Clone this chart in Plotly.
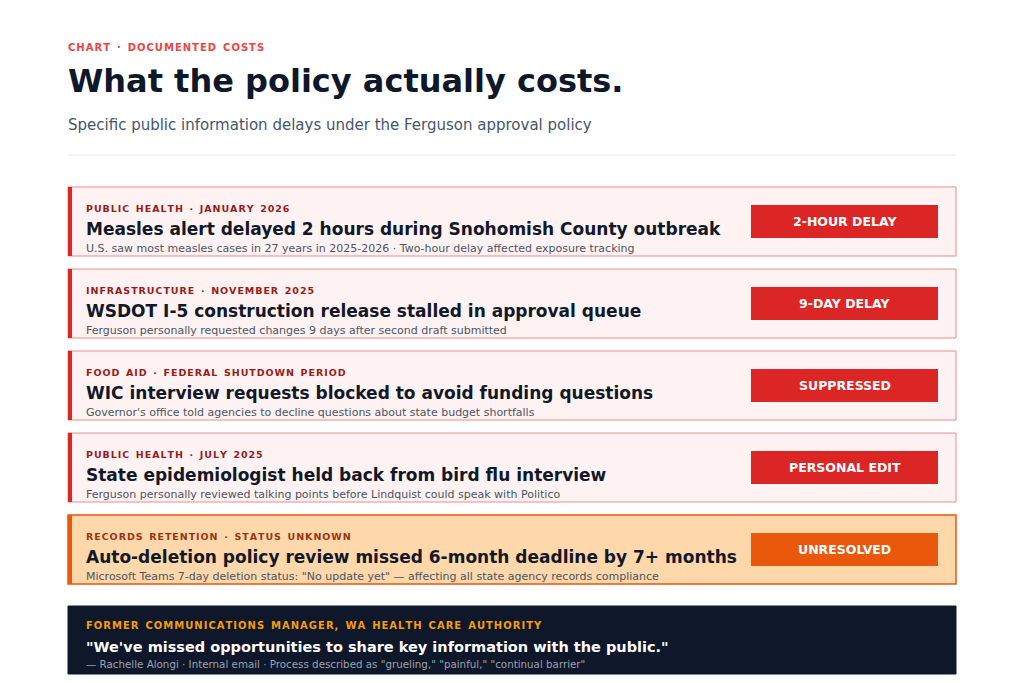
import plotly.graph_objects as go

# card content
labels = ["PUBLIC HEALTH · JANUARY 2026", "INFRASTRUCTURE · NOVEMBER 2025",
          "FOOD AID · FEDERAL SHUTDOWN PERIOD", "PUBLIC HEALTH · JULY 2025",
          "RECORDS RETENTION · STATUS UNKNOWN"]
titles = ["Measles alert delayed 2 hours during Snohomish County outbreak",
          "WSDOT I-5 construction release stalled in approval queue",
          "WIC interview requests blocked to avoid funding questions",
          "State epidemiologist held back from bird flu interview",
          "Auto-deletion policy review missed 6-month deadline by 7+ months"]
details = ["U.S. saw most measles cases in 27 years in 2025-2026 · Two-hour delay affected exposure tracking",
           "Ferguson personally requested changes 9 days after second draft submitted",
           "Governor's office told agencies to decline questions about state budget shortfalls",
           "Ferguson personally reviewed talking points before Lindquist could speak with Politico",
           "Microsoft Teams 7-day deletion status: \"No update yet\" — affecting all state agency records compliance"]
badges = ["2-HOUR DELAY", "9-DAY DELAY", "SUPPRESSED", "PERSONAL EDIT", "UNRESOLVED"]
resolved = [True, True, True, True, False]

quote_label = "FORMER COMMUNICATIONS MANAGER, WA HEALTH CARE AUTHORITY"
quote_text = "\"We've missed opportunities to share key information with the public.\""
quote_src = "— Rachelle Alongi · Internal email · Process described as \"grueling,\" \"painful,\" \"continual barrier\""

FONT = "DejaVu Sans"
shapes, ann = [], []


def spaced(s):
    # approximate CSS letter-spacing with hair spaces
    return "\u200a".join(s.replace(" ", "\u2002"))


def text(x, y, s, size, color, bold=False, xanchor="left"):
    ann.append(dict(x=x - (2 if xanchor == "left" else 0), y=y,
                    text=f"<b>{s}</b>" if bold else s, showarrow=False,
                    xanchor=xanchor, yanchor="middle", xref="x", yref="y",
                    font=dict(family=FONT, size=size, color=color)))


# header
text(68, 47, spaced("CHART · DOCUMENTED COSTS"), 10, "#ef4444", True)
text(68, 81, "What the policy actually costs.", 32, "#0f172a", True)
text(68, 125, "Specific public information delays under the Ferguson approval policy", 15, "#475569")
shapes.append(dict(type="line", x0=68, x1=956, y0=155, y1=155, line=dict(color="#e5e7eb", width=1)))

for i in range(len(titles)):
    top = 187 + i * 82
    red = resolved[i]
    fill = "#fef2f2" if red else "#fed7aa"
    border = "#f08a8a" if red else "#ea580c"
    accent = "#dc2626" if red else "#ea580c"
    shapes.append(dict(type="rect", x0=68, x1=956, y0=top, y1=top + 69, fillcolor=fill,
                       line=dict(color=border, width=1 if red else 1.5)))
    shapes.append(dict(type="rect", x0=68, x1=72, y0=top, y1=top + 69, fillcolor=accent, line=dict(width=0)))
    shapes.append(dict(type="rect", x0=751, x1=938, y0=top + 18, y1=top + 51, fillcolor=accent, line=dict(width=0)))
    text(86, top + 21, spaced(labels[i]), 9.5, "#991b1b" if red else "#9a3412", True)
    text(86, top + 42, titles[i], 17, "#111827", True)
    text(86, top + 61, details[i], 11, "#4b5563")
    text(844.5, top + 34, badges[i], 12.5, "white", True, "center")

shapes.append(dict(type="rect", x0=68, x1=956, y0=606, y1=674, fillcolor="#0f172a", line=dict(color="#0f172a", width=1)))
text(86, 625, spaced(quote_label), 10, "#f59e0b", True)
text(86, 647, quote_text, 14.5, "white", True)
text(86, 664, quote_src, 10.3, "#9ca3af")

fig = go.Figure()
fig.update_layout(width=1024, height=683, margin=dict(l=0, r=0, t=0, b=0),
                  paper_bgcolor="white", plot_bgcolor="white", showlegend=False,
                  shapes=shapes, annotations=ann,
                  xaxis=dict(range=[8, 1032], visible=False, fixedrange=True),
                  yaxis=dict(range=[691, 8], visible=False, fixedrange=True))
fig.write_html("out.html", config={"displayModeBar": False})
